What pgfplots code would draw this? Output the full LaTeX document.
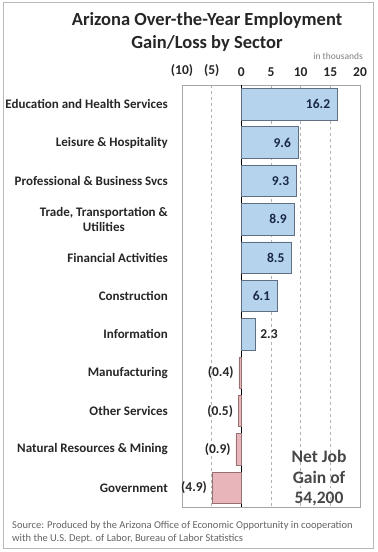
\documentclass[border=0pt]{standalone}
\usepackage{fontspec}
\setmainfont{Carlito}
\usepackage{pgfplots}
\usepackage{pgfplotstable}
\pgfplotsset{compat=1.18}
\definecolor{barblue}{RGB}{182,211,238}
\definecolor{barblueedge}{RGB}{95,110,130}
\definecolor{barpink}{RGB}{232,182,186}
\definecolor{barpinkedge}{RGB}{150,112,114}
\definecolor{labnavy}{RGB}{25,40,70}
\definecolor{txtdark}{RGB}{38,38,38}
\definecolor{srcgray}{RGB}{100,100,100}
\pgfplotstableread{
v i lab
16.2 0 16.2
9.6 1 9.6
9.3 2 9.3
8.9 3 8.9
8.5 4 8.5
6.1 5 6.1
}\posin
\pgfplotstableread{
v i lab
2.3 6 2.3
}\posout
\pgfplotstableread{
v i lab
-0.4 7 (0.4)
-0.5 8 (0.5)
-0.9 9 (0.9)
-4.9 10 (4.9)
}\neg
\begin{document}
\begin{tikzpicture}
\useasboundingbox (0,0) rectangle (378bp,552bp);
\fill[white] (0,0) rectangle (378bp,552bp);
\draw[gray!55, line width=1bp] (3bp,3bp) rectangle (373bp,549bp);
\node[font=\bfseries\fontsize{18.5bp}{21bp}\selectfont, text=txtdark] at (207bp,532bp) {Arizona Over-the-Year Employment};
\node[font=\bfseries\fontsize{18.5bp}{21bp}\selectfont, text=txtdark] at (207bp,509bp) {Gain/Loss by Sector};
\node[font=\fontsize{9.5bp}{10bp}\selectfont, text=gray, anchor=east, inner sep=0pt] at (363bp,496bp) {in thousands};
\begin{axis}[
  at={(182bp,45bp)}, anchor=south west,
  scale only axis, width=178bp, height=422bp,
  xbar, bar width=0.82, bar shift=0pt,
  y dir=reverse,
  xmin=-10, xmax=20, ymin=-0.5, ymax=10.5,
  xtick={-10,-5,0,5,10,15,20},
  xticklabels={(10),(5),0,5,10,15,20},
  xticklabel pos=upper,
  xticklabel style={font=\bfseries\fontsize{13.5bp}{15bp}\selectfont, text=txtdark, inner sep=0pt, yshift=8bp},
  ytick={0,...,10},
  yticklabels={Education and Health Services,Leisure \& Hospitality,Professional \& Business Svcs,{Trade, Transportation \&\\Utilities},Financial Activities,Construction,Information,Manufacturing,Other Services,Natural Resources \& Mining,Government},
  yticklabel style={font=\bfseries\fontsize{13bp}{15bp}\selectfont, text=txtdark, align=center, inner sep=0pt, xshift=-14bp},
  major tick length=0,
  xmajorgrids, major grid style={gray!60, dashed},
  axis line style={gray!70},
  extra x ticks={0}, extra x tick labels={},
  extra x tick style={grid=major, major grid style={black, solid, line width=1.2bp}},
  point meta=explicit symbolic,
  nodes near coords,
  nodes near coords style={font=\bfseries\fontsize{13.5bp}{15bp}\selectfont, text=labnavy, inner sep=0pt},
  clip=false,
]
\addplot[fill=barblue, draw=barblueedge, line width=0.7bp, nodes near coords style={anchor=east, xshift=-7bp}] table[x=v, y=i, meta=lab] {\posin};
\addplot[fill=barblue, draw=barblueedge, line width=0.7bp, nodes near coords style={anchor=west, xshift=5bp, text=txtdark}] table[x=v, y=i, meta=lab] {\posout};
\addplot[fill=barpink, draw=barpinkedge, line width=0.7bp, nodes near coords style={anchor=east, xshift=-5bp, text=txtdark}] table[x=v, y=i, meta=lab] {\neg};
\end{axis}
\node[font=\bfseries\fontsize{17.5bp}{20.5bp}\selectfont, text=txtdark!85!white, align=center] at (319bp,73.5bp) {Net Job\\Gain of\\54,200};
\node[font=\fontsize{10.5bp}{12bp}\selectfont, text=srcgray, anchor=west, inner sep=0pt] at (12bp,26bp) {Source: Produced by the Arizona Office of Economic Opportunity in cooperation};
\node[font=\fontsize{10.5bp}{12bp}\selectfont, text=srcgray, anchor=west, inner sep=0pt] at (12bp,13bp) {with the U.S. Dept. of Labor, Bureau of Labor Statistics};
\end{tikzpicture}
\end{document}
